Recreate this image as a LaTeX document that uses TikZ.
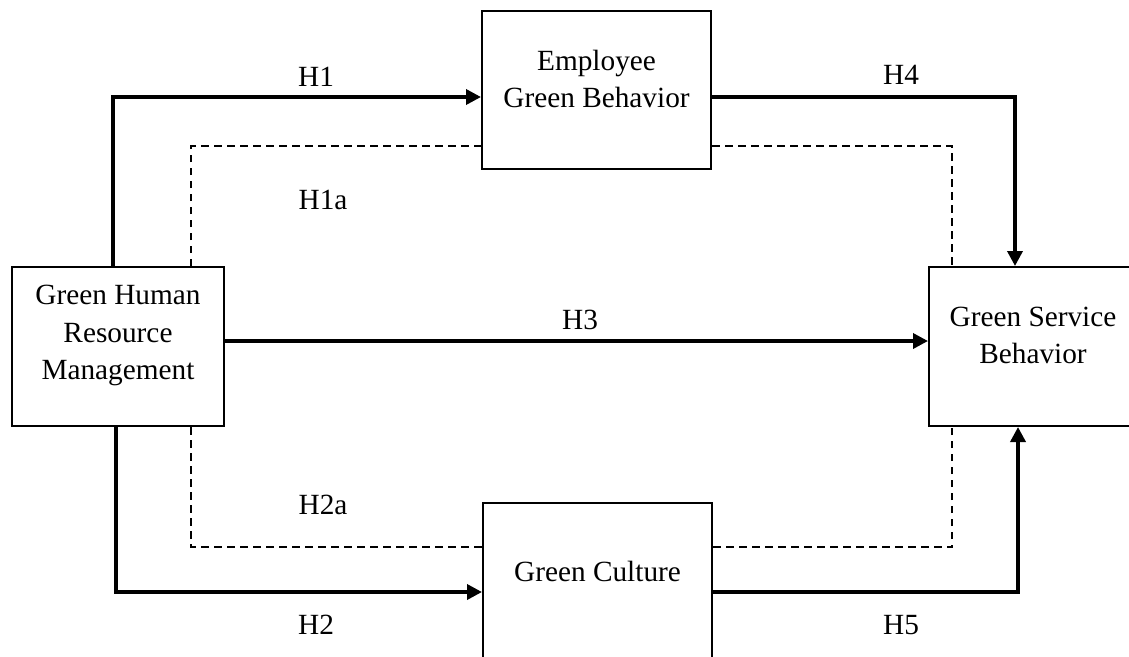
\documentclass[tikz,border=0pt]{standalone}
\usepackage{fontspec}
\setmainfont{Liberation Serif}
\usetikzlibrary{arrows.meta}
\begin{document}
\begin{tikzpicture}[x=1pt,y=-1pt,
  box/.style={draw, line width=2pt, inner sep=0pt},
  boxtext/.style={align=center, inner sep=0pt, font=\fontsize{29.3}{37.5}\selectfont},
  lbl/.style={inner sep=0pt, font=\fontsize{29.3}{37.5}\selectfont},
  connarrow/.style={line width=3.5pt, -{Triangle[length=15pt,width=15pt]}},
  dashconn/.style={line width=1.5pt, dash pattern=on 7.5pt off 5.5pt}]
\clip (0,0) rectangle (1129,656);
\fill[white] (0,0) rectangle (1129,656);
% boxes
\node[box, minimum width=229pt, minimum height=158pt] (egb) at (596.5,90) {};
\node[box, minimum width=212pt, minimum height=159pt] (ghrm) at (118,346.5) {};
\node[box, minimum width=208pt, minimum height=159pt] (gsb) at (1033,346.5) {};
\node[box, minimum width=229pt, minimum height=159pt] (gc) at (597.5,582.5) {};
\node[boxtext] (tegb) at ([yshift=11pt]egb.center) {Employee\\Green Behavior};
\node[boxtext] (tghrm) at ([yshift=11pt]ghrm.center) {Green Human\\Resource\\Management};
\node[boxtext] (tgsb) at ([yshift=11pt]gsb.center) {Green Service\\Behavior};
\node[boxtext] (tgc) at ([yshift=11pt]gc.center) {Green Culture};
% corner coordinates
\coordinate (h1c) at (113,97);
\coordinate (d1c) at (191,146);
\coordinate (h4c) at (1015,97);
\coordinate (d4c) at (952,146);
\coordinate (h3c) at (0,341);
\coordinate (h2c) at (116,592);
\coordinate (d2c) at (191,547);
\coordinate (h5c) at (1018,592);
\coordinate (d5c) at (952,547);
% connectors
\draw[connarrow] (h1c |- ghrm.north) -- (h1c) -- (h1c -| egb.west);
\draw[dashconn] (d1c |- ghrm.north) -- (d1c) -- (d1c -| egb.west);
\draw[connarrow] (h4c -| egb.east) -- (h4c) -- (h4c |- gsb.north);
\draw[dashconn] (d4c -| egb.east) -- (d4c) -- (d4c |- gsb.north);
\draw[connarrow] (h3c -| ghrm.east) -- (h3c -| gsb.west);
\draw[connarrow] (h2c |- ghrm.south) -- (h2c) -- (h2c -| gc.west);
\draw[dashconn] (d2c |- ghrm.south) -- (d2c) -- (d2c -| gc.west);
\draw[connarrow] (h5c -| gc.east) -- (h5c) -- (h5c |- gsb.south);
\draw[dashconn] (d5c -| gc.east) -- (d5c) -- (d5c |- gsb.south);
% labels
\node[lbl] (lh1) at (316,77) {H1};
\node[lbl] (lh1a) at (323,200) {H1a};
\node[lbl] (lh4) at (901,75) {H4};
\node[lbl] (lh3) at (580,320) {H3};
\node[lbl] (lh2a) at (323,505) {H2a};
\node[lbl] (lh2) at (316,625) {H2};
\node[lbl] (lh5) at (901,625) {H5};
\end{tikzpicture}
\end{document}
